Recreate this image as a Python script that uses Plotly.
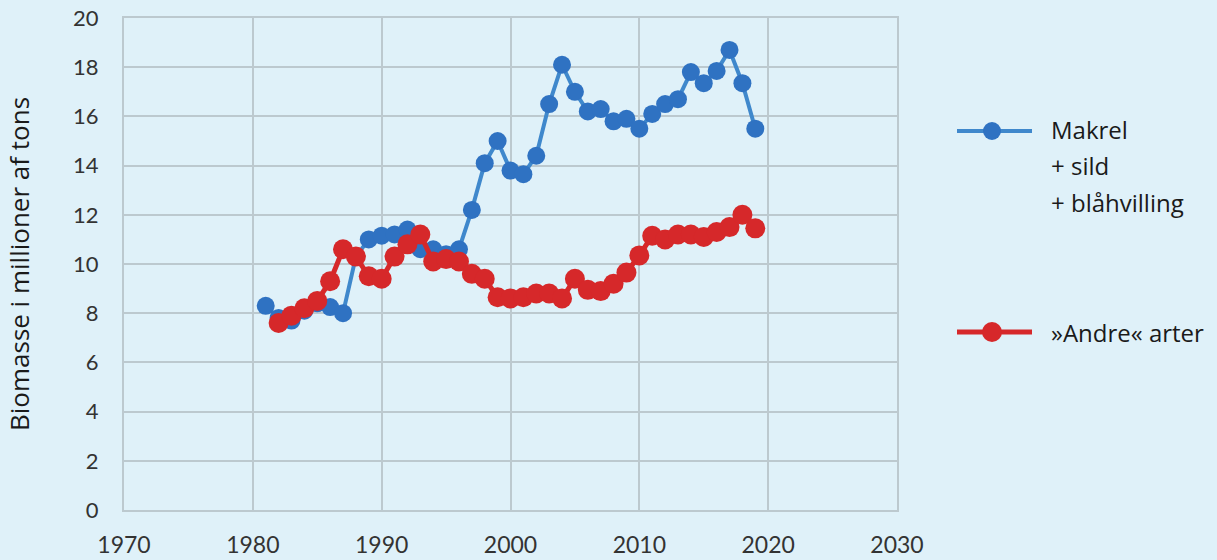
import plotly.graph_objects as go

years_blue = list(range(1981, 2020))
makrel = [8.3, 7.8, 7.7, 8.1, 8.4, 8.25, 8.0, 10.3, 11.0, 11.15, 11.2, 11.4, 10.6, 10.6, 10.4, 10.6,
          12.2, 14.1, 15.0, 13.8, 13.65, 14.4, 16.5, 18.1, 17.0, 16.2, 16.3, 15.8, 15.9, 15.5,
          16.1, 16.5, 16.7, 17.8, 17.35, 17.85, 18.7, 17.35, 15.5]

years_red = list(range(1982, 2020))
andre = [7.6, 7.9, 8.2, 8.5, 9.3, 10.6, 10.3, 9.5, 9.4, 10.3, 10.8, 11.2, 10.1, 10.2, 10.1, 9.6,
         9.4, 8.65, 8.6, 8.65, 8.8, 8.8, 8.6, 9.4, 8.95, 8.9, 9.2, 9.65, 10.35, 11.15, 11.0,
         11.2, 11.2, 11.1, 11.3, 11.5, 12.0, 11.45]

name_blue = "Makrel<br>+ sild<br>+ blåhvilling"
name_red = "»Andre« arter"
y_title = "Biomasse i millioner af tons"
x_ticks = [1970, 1980, 1990, 2000, 2010, 2020, 2030]
y_ticks = list(range(0, 21, 2))

BG = "#DFF1F9"
GRID = "#BCC9CF"
BLUE_LINE = "#3F88CC"
BLUE_MARK = "#2F72C2"
RED = "#D6282A"

fig = go.Figure()
fig.add_trace(go.Scatter(x=years_blue, y=makrel, mode="lines+markers", name=name_blue,
                         line=dict(color=BLUE_LINE, width=4),
                         marker=dict(color=BLUE_MARK, size=18), showlegend=False))
fig.add_trace(go.Scatter(x=years_red, y=andre, mode="lines+markers", name=name_red,
                         line=dict(color=RED, width=5),
                         marker=dict(color=RED, size=20), showlegend=False))

W, H = 1217, 560
L, R, T, B = 124, 320, 18, 50
pw, ph = W - L - R, H - T - B

def px(x):
    return (x - L) / pw

def py(y):
    return (H - B - y) / ph

# manual legend
legend_items = [(131, BLUE_LINE, BLUE_MARK, 4, 18), (332, RED, RED, 5, 20)]
for yy, lc, mc, lw, ms in legend_items:
    fig.add_shape(type="line", xref="paper", yref="paper", x0=px(957), x1=px(1032),
                  y0=py(yy), y1=py(yy), line=dict(color=lc, width=lw))
    fig.add_shape(type="circle", xref="paper", yref="paper",
                  x0=px(992 - ms / 2), x1=px(992 + ms / 2),
                  y0=py(yy + ms / 2), y1=py(yy - ms / 2),
                  fillcolor=mc, line=dict(width=0))

LEG_FONT = dict(family="Open Sans", size=24, color="#1a1a1a")
for i, line in enumerate(name_blue.split("<br>")):
    fig.add_annotation(xref="paper", yref="paper", x=px(1049), y=py(129 + i * 36.5),
                       xanchor="left", yanchor="middle", text=line, showarrow=False,
                       align="left", font=LEG_FONT)
fig.add_annotation(xref="paper", yref="paper", x=px(1049), y=py(332), xanchor="left", yanchor="middle",
                   text=name_red, showarrow=False, align="left", font=LEG_FONT)

fig.update_layout(
    width=W, height=H,
    margin=dict(l=L, r=R, t=T, b=B, autoexpand=False),
    paper_bgcolor=BG, plot_bgcolor=BG,
    font=dict(family="Lato", color="#333333"),
)
fig.update_xaxes(range=[1970, 2030], tickvals=x_ticks, showgrid=True, gridcolor=GRID, gridwidth=2,
                 showline=True, linecolor=GRID, linewidth=2, mirror=True, zeroline=False,
                 ticks="outside", ticklen=13, tickcolor="rgba(0,0,0,0)", automargin=False,
                 ticklabeloverflow="allow",
                 tickfont=dict(family="Lato", size=23, color="#333333"))
fig.update_yaxes(range=[0, 20], tickvals=y_ticks, showgrid=True, gridcolor=GRID, gridwidth=2,
                 showline=True, linecolor=GRID, linewidth=2, mirror=True, zeroline=False,
                 ticks="outside", ticklen=19, tickcolor="rgba(0,0,0,0)", automargin=False,
                 ticklabeloverflow="allow",
                 tickfont=dict(family="Lato", size=22, color="#333333"),
                 title=dict(text=y_title, standoff=36,
                            font=dict(family="Open Sans", size=26, color="#1a1a1a")))

fig.write_html("out.html", config={"displayModeBar": False},
               post_script="document.body.style.margin='0px';")
